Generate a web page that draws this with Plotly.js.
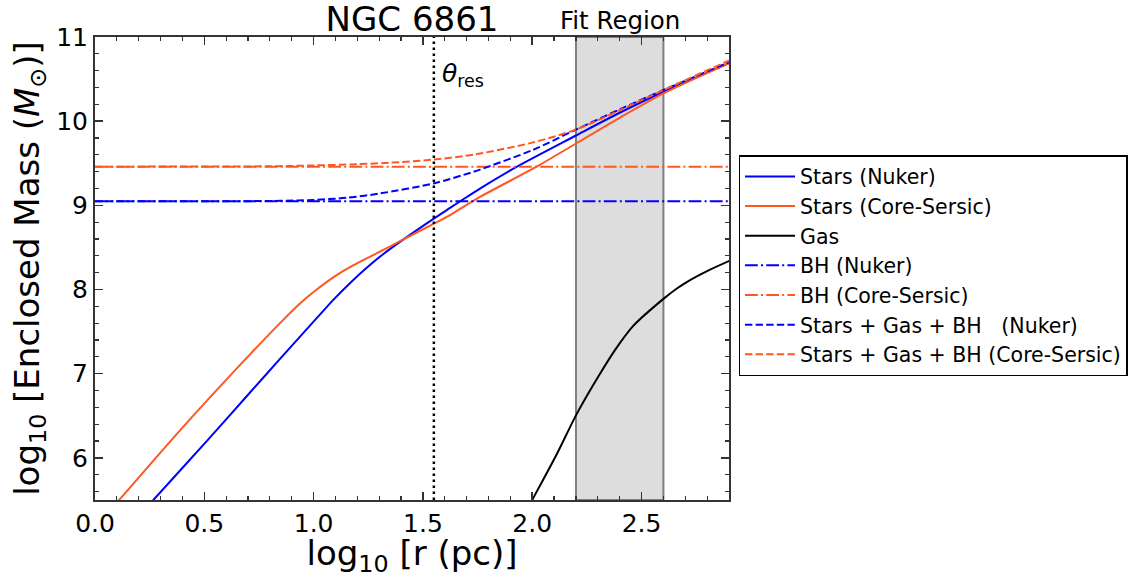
<!DOCTYPE html>
<html>
<head>
<meta charset="utf-8">
<script src="https://cdn.plot.ly/plotly-3.0.1.min.js"></script>
<style>html,body{margin:0;padding:0;background:#fff;}#chart{width:1135px;height:578px;}</style>
</head>
<body>
<div id="chart"></div>
<script>
// ---- data ----
const xStarsNuker = [0.20, 0.267, 0.511, 0.70, 0.839, 1.014, 1.09, 1.166, 1.24, 1.319, 1.395, 1.548, 1.624, 1.677, 1.761, 1.93, 2.20, 2.40, 2.60, 2.75, 2.90];
const yStarsNuker = [5.30, 5.50, 6.20, 6.75, 7.155, 7.66, 7.877, 8.075, 8.253, 8.423, 8.567, 8.84, 8.97, 9.06, 9.20, 9.46, 9.83, 10.10, 10.35, 10.52, 10.69];

const xStarsCS = [0.05, 0.11, 0.40, 0.709, 0.861, 0.94, 1.014, 1.09, 1.166, 1.319, 1.395, 1.548, 1.624, 1.761, 2.02, 2.20, 2.40, 2.60, 2.90];
const yStarsCS = [5.33, 5.50, 6.36, 7.23, 7.64, 7.84, 8.00, 8.145, 8.265, 8.47, 8.575, 8.78, 8.885, 9.10, 9.46, 9.735, 10.04, 10.33, 10.69];

const xGas = [1.98, 2.00, 2.112, 2.203, 2.31, 2.387, 2.463, 2.60, 2.66, 2.72, 2.80, 2.905];
const yGas = [5.40, 5.50, 6.044, 6.52, 7.00, 7.313, 7.571, 7.889, 8.01, 8.11, 8.22, 8.345];

const xBH = [0.0, 2.9];
const yBHNuker = [9.05, 9.05];
const yBHCS = [9.46, 9.46];

const xTotalNuker = [0.0, 0.80, 1.00, 1.151, 1.30, 1.548, 1.715, 1.761, 2.00, 2.20, 2.40, 2.60, 2.90];
const yTotalNuker = [9.05, 9.052, 9.065, 9.09, 9.14, 9.26, 9.385, 9.425, 9.655, 9.90, 10.14, 10.37, 10.70];

const xTotalCS = [0.0, 0.80, 1.00, 1.20, 1.40, 1.548, 1.715, 1.761, 2.00, 2.20, 2.40, 2.60, 2.90];
const yTotalCS = [9.46, 9.464, 9.474, 9.489, 9.514, 9.544, 9.595, 9.615, 9.745, 9.90, 10.13, 10.37, 10.72];

const fitRegion = [2.2, 2.6];
const thetaRes = 1.55;

const seriesNames = ["Stars (Nuker)", "Stars (Core-Sersic)", "Gas", "BH (Nuker)", "BH (Core-Sersic)",
  "Stars + Gas + BH   (Nuker)", "Stars + Gas + BH (Core-Sersic)"];
const xTicks = [0.0, 0.5, 1.0, 1.5, 2.0, 2.5];
const xTickText = ["0.0", "0.5", "1.0", "1.5", "2.0", "2.5"];
const yTicks = [6, 7, 8, 9, 10, 11];

// ---- styling ----
const BLUE = "#0000ff";
const ORANGE = "#ff5722";
const FONT = "DejaVu Sans, sans-serif";
const DASHDOT = "12.8px,3.2px,2px,3.2px";
const DASHED = "7.4px,3.2px";

function tr(x, y, name, color, dash) {
  return {x: x, y: y, name: name, type: "scatter", mode: "lines",
    line: {color: color, width: 2, dash: dash, shape: "spline", smoothing: 0.8},
    hoverinfo: "skip"};
}

const traces = [
  tr(xStarsNuker, yStarsNuker, seriesNames[0], BLUE, "solid"),
  tr(xStarsCS, yStarsCS, seriesNames[1], ORANGE, "solid"),
  tr(xGas, yGas, seriesNames[2], "#000000", "solid"),
  tr(xBH, yBHNuker, seriesNames[3], BLUE, DASHDOT),
  tr(xBH, yBHCS, seriesNames[4], ORANGE, DASHDOT),
  tr(xTotalNuker, yTotalNuker, seriesNames[5], BLUE, DASHED),
  tr(xTotalCS, yTotalCS, seriesNames[6], ORANGE, DASHED)
];

const axisCommon = {
  showgrid: false, zeroline: false, showline: true, linecolor: "#333333", linewidth: 2,
  mirror: "allticks", ticks: "inside", ticklen: 8, tickwidth: 1.5, tickcolor: "#333333",
  tickfont: {family: FONT, size: 25, color: "#000"},
  minor: {ticks: "inside", ticklen: 4, tickwidth: 1.2, tickcolor: "#333333"}
};

const layout = {
  width: 1135, height: 578,
  paper_bgcolor: "#ffffff", plot_bgcolor: "rgba(0,0,0,0)",
  margin: {l: 95, r: 406, t: 37, b: 78, autoexpand: false},
  font: {family: FONT, color: "#000"},
  showlegend: true,
  title: {text: "NGC 6861", font: {family: FONT, size: 34, color: "#000"},
    x: 0.5, xref: "paper", xanchor: "center", y: 1, yref: "paper", yanchor: "bottom", pad: {b: 6}},
  xaxis: Object.assign({}, axisCommon, {
    range: [0, 2.9], tickmode: "array", tickvals: xTicks, ticktext: xTickText,
    minor: Object.assign({}, axisCommon.minor, {dtick: 0.1, tick0: 0}),
    title: {text: "log<sub>10</sub> [r (pc)]", font: {family: FONT, size: 34, color: "#000"}, standoff: 2}
  }),
  yaxis: Object.assign({}, axisCommon, {
    range: [5.5, 11], tickmode: "array", tickvals: yTicks,
    minor: Object.assign({}, axisCommon.minor, {dtick: 0.2, tick0: 0}),
    title: {text: "log<sub>10</sub> [Enclosed Mass (<i>M</i><sub>⊙</sub>)]", font: {family: FONT, size: 34, color: "#000"}, standoff: 6}
  }),
  legend: {
    x: 1.015, xanchor: "left", y: 0.745, yanchor: "top",
    bgcolor: "#ffffff", bordercolor: "#000000", borderwidth: 1.5,
    font: {family: FONT, size: 20.5, color: "#000"}, itemwidth: 50, tracegroupgap: 0
  },
  shapes: [
    {type: "rect", xref: "x", yref: "paper", x0: fitRegion[0], x1: fitRegion[1], y0: 0, y1: 1,
      fillcolor: "#dddddd", line: {color: "#808080", width: 2}, layer: "below"},
    {type: "line", xref: "x", yref: "paper", x0: thetaRes, x1: thetaRes, y0: 0, y1: 1,
      line: {color: "#000000", width: 2.5, dash: "2.5px,3.5px"}, layer: "above"}
  ],
  annotations: [
    {text: "Fit Region", xref: "x", yref: "paper", x: (fitRegion[0] + fitRegion[1]) / 2, y: 1,
      xanchor: "center", yanchor: "bottom", yshift: 0, showarrow: false,
      font: {family: FONT, size: 24.5, color: "#000"}},
    {text: "<i>θ</i><sub>res</sub>", xref: "x", yref: "y", x: thetaRes, y: 10.55,
      xanchor: "left", yanchor: "middle", xshift: 6, showarrow: false,
      font: {family: FONT, size: 25, color: "#000"}}
  ]
};

Plotly.newPlot("chart", traces, layout, {staticPlot: true, displayModeBar: false});
</script>
</body>
</html>
